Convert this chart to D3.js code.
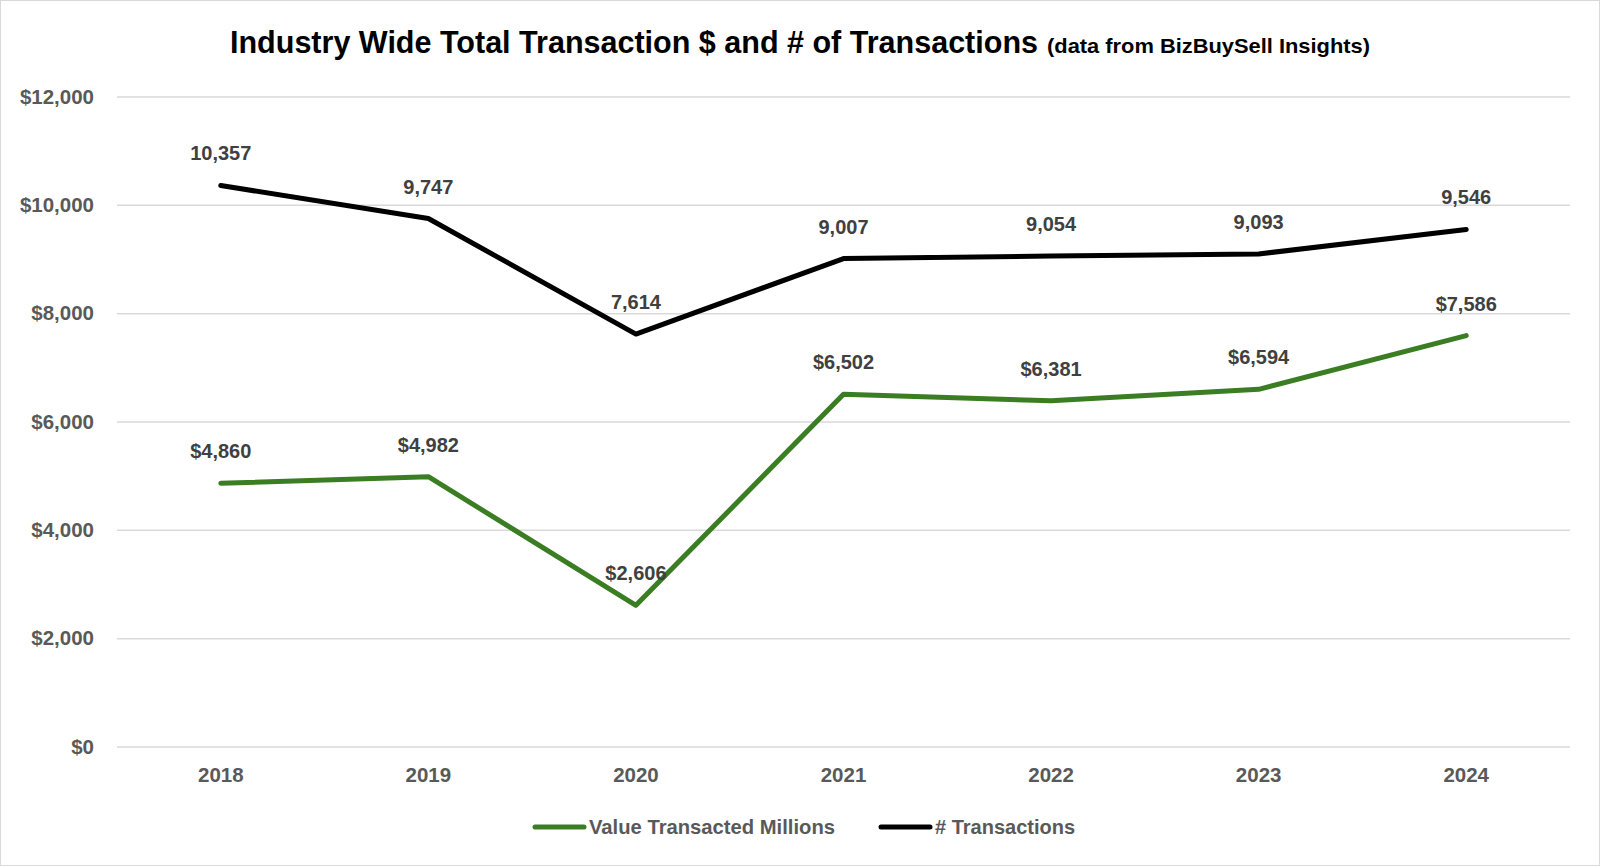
<!DOCTYPE html>
<html><head><meta charset="utf-8">
<script src="https://cdn.jsdelivr.net/npm/d3@7"></script>
<style>
html,body{margin:0;padding:0;background:#fff;}
svg{display:block;}
</style></head>
<body>
<svg id="chart" width="1600" height="866"></svg>
<script>
const years = ["2018","2019","2020","2021","2022","2023","2024"];
const valueTransacted = [4860, 4982, 2606, 6502, 6381, 6594, 7586];
const transactions = [10357, 9747, 7614, 9007, 9054, 9093, 9546];
const yTicks = [0, 2000, 4000, 6000, 8000, 10000, 12000];
const seriesNames = ["Value Transacted Millions", "# Transactions"];

(function(){
const sans = "'Liberation Sans',Arial,sans-serif";
const svg = d3.select("#chart");
const W = 1600, H = 866;

svg.append("rect").attr("x",0.5).attr("y",0.5).attr("width",W-1).attr("height",H-1)
  .attr("fill","#fff").attr("stroke","#d9d9d9").attr("stroke-width",1);

const mLeft = 117, mRight = 1570, mTop = 96.5, mBottom = 746.5;
const x = d3.scaleBand().domain(years).range([mLeft, mRight]);
const y = d3.scaleLinear().domain([0, 12000]).range([mBottom, mTop]);

const yAxis = d3.axisLeft(y).tickValues(yTicks).tickSize(-(mRight-mLeft)).tickPadding(23)
  .tickFormat(d => "$" + d3.format(",")(d));
const gy = svg.append("g").attr("transform", `translate(${mLeft},0)`).call(yAxis);
gy.select(".domain").remove();
gy.selectAll(".tick line").attr("stroke","#d9d9d9").attr("stroke-width",1.5);
gy.selectAll(".tick text").attr("fill","#595959").style("font-family",sans)
  .style("font-weight","bold").style("font-size","20.5px");

const xAxis = d3.axisBottom(x).tickSize(0).tickPadding(21);
const gx = svg.append("g").attr("transform", `translate(0,${mBottom})`).call(xAxis);
gx.select(".domain").remove();
gx.selectAll(".tick text").attr("fill","#595959").style("font-family",sans)
  .style("font-weight","bold").style("font-size","20.5px");

const cx = d => x(d) + x.bandwidth()/2;
const line = d3.line().x((d,i) => cx(years[i])).y(d => y(d));

const series = [
  {name: seriesNames[0], data: valueTransacted, color: "#3b7d23", fmt: d => "$" + d3.format(",")(d)},
  {name: seriesNames[1], data: transactions, color: "#000000", fmt: d => d3.format(",")(d)}
];

series.forEach(s => {
  svg.append("path").datum(s.data).attr("d", line).attr("fill","none")
    .attr("stroke", s.color).attr("stroke-width",5).attr("stroke-linejoin","round").attr("stroke-linecap","round");
});
series.forEach(s => {
  svg.append("g").selectAll("text").data(s.data).join("text")
    .attr("x",(d,i) => cx(years[i])).attr("y", d => y(d) - 25)
    .attr("text-anchor","middle").attr("fill","#404040")
    .style("font-family",sans).style("font-weight","bold").style("font-size","20px")
    .text(s.fmt);
});

const title = svg.append("g").style("font-family",sans).style("font-weight","bold").attr("fill","#000");
title.append("text").attr("x", 230).attr("y", 53).style("font-size","32px")
  .attr("textLength", 808).attr("lengthAdjust","spacingAndGlyphs")
  .text("Industry Wide Total Transaction $ and # of Transactions");
title.append("text").attr("x", 1047).attr("y", 53).style("font-size","21px")
  .attr("textLength", 323).attr("lengthAdjust","spacingAndGlyphs")
  .text("(data from BizBuySell Insights)");

const legendItems = [
  {name: seriesNames[0], color: "#3b7d23", x: 535, w: 246},
  {name: seriesNames[1], color: "#000000", x: 881, w: 140}
];
const lg = svg.append("g");
legendItems.forEach(it => {
  lg.append("line").attr("x1", it.x).attr("x2", it.x + 49).attr("y1", 827).attr("y2", 827)
    .attr("stroke", it.color).attr("stroke-width",5).attr("stroke-linecap","round");
  lg.append("text").attr("x", it.x + 54).attr("y", 834).attr("fill","#595959")
    .attr("textLength", it.w).attr("lengthAdjust","spacingAndGlyphs")
    .style("font-family",sans).style("font-weight","bold").style("font-size","21px").text(it.name);
});
})();
</script>
</body></html>
